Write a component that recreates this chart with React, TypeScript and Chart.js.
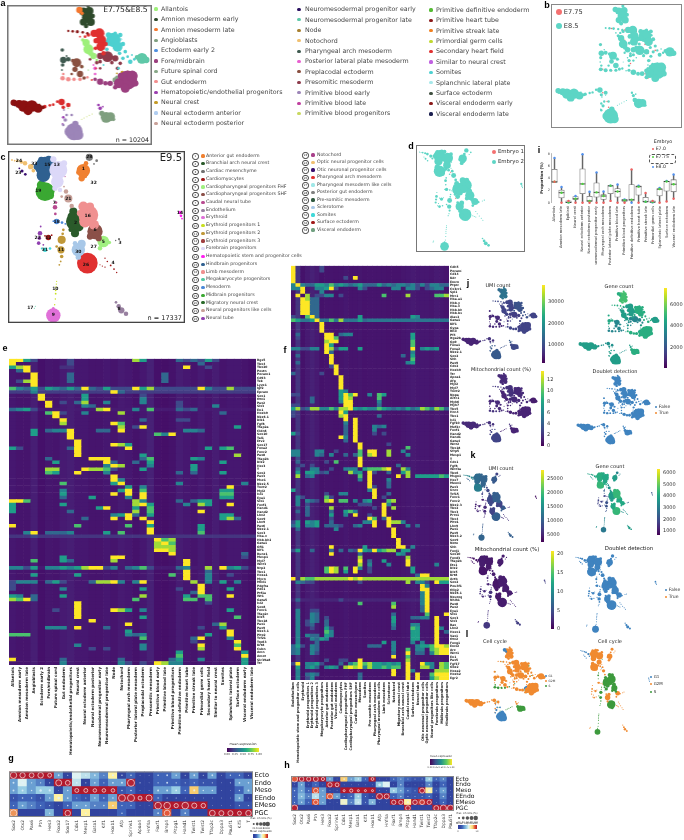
import React, { useEffect, useRef } from "react";
import { Chart, registerables } from "chart.js";
Chart.register(...registerables);

/* ---------- panel a / b / j / l : E7.75 & E8.5 atlas (UMAP units, x,y,r) ---------- */
const cells85: any[] = [
  ["Amnion mesoderm late", "#f4772e", [[238, 30, 7], [246, 40, 4]]],
  ["Amnion mesoderm early", "#2f4a2c", [[250, 35, 9], [268, 33, 9], [262, 52, 12], [250, 66, 8], [272, 66, 9], [264, 18, 4], [278, 48, 5], [258, 78, 5]]],
  ["Primitive heart tube", "#8b1a1a", [[205, 93, 2.5], [218, 94, 3], [232, 95, 3.5], [248, 97, 3], [262, 100, 3]]],
  ["Secondary heart field", "#e03030", [[282, 100, 8], [298, 100, 11], [303, 120, 11], [302, 140, 10], [265, 105, 4], [310, 160, 5], [288, 205, 2], [275, 240, 2], [240, 110, 2], [288, 122, 6], [316, 132, 5], [286, 145, 4], [255, 110, 3]]],
  ["Allantois", "#9ef07a", [[258, 128, 8], [265, 148, 11], [280, 168, 7], [290, 180, 3], [248, 120, 4], [272, 160, 6]]],
  ["Somites", "#4dd0d0", [[340, 120, 16], [352, 140, 11], [325, 105, 6], [360, 105, 5], [375, 155, 4], [368, 175, 4], [390, 185, 5], [345, 100, 4], [320, 148, 4], [395, 165, 2], [310, 195, 2], [355, 205, 3], [368, 132, 5], [382, 170, 3], [402, 178, 3], [325, 128, 7], [358, 160, 4]]],
  ["Splanchnic lateral plate", "#a6e8ea", [[345, 128, 10], [362, 118, 3]]],
  ["Presomitic mesoderm", "#8d3b4b", [[322, 170, 12], [345, 175, 7], [300, 168, 7], [290, 188, 4], [360, 190, 4], [300, 205, 3], [335, 188, 4], [352, 205, 4], [300, 185, 4], [270, 178, 3]]],
  ["Neuromesodermal progenitor late", "#5fc8a8", [[425, 175, 12], [438, 180, 7], [410, 172, 5]]],
  ["Pharyngeal arch mesoderm", "#3f5a50", [[187, 150, 4], [190, 180, 7], [205, 178, 5], [188, 195, 4], [186, 210, 2], [200, 168, 2]]],
  ["Preplacodal ectoderm", "#8a5040", [[230, 188, 10], [225, 208, 6], [240, 222, 7], [252, 234, 4], [215, 222, 3], [218, 182, 4], [245, 200, 4]]],
  ["Gut endoderm", "#f28e8e", [[188, 235, 5], [205, 238, 5], [222, 238, 4], [240, 238, 4], [190, 222, 3], [262, 232, 3]]],
  ["Fore/midbrain", "#9b3f7f", [[382, 240, 21], [356, 250, 11], [396, 228, 12], [375, 265, 10], [330, 250, 6], [300, 245, 7], [285, 238, 4], [345, 262, 5], [405, 250, 7], [316, 250, 5], [362, 228, 7]]],
  ["Future spinal cord", "#88a888", [[345, 240, 6], [350, 232, 4]]],
  ["Neural crest", "#c49a26", [[366, 218, 4], [350, 220, 2], [382, 214, 2]]],
  ["Posterior lateral plate mesoderm", "#e860d0", [[285, 205, 4], [285, 222, 3], [280, 195, 2]]],
  ["Visceral endoderm early", "#8b1010", [[42, 308, 7], [58, 312, 9], [72, 318, 13], [96, 318, 13], [115, 325, 10], [85, 332, 10], [130, 322, 4]]],
  ["Secondary heart field late", "#d92c2c", [[135, 320, 4], [150, 316, 3], [185, 306, 7], [205, 315, 5], [172, 305, 3], [190, 322, 4], [160, 314, 3]]],
  ["Visceral endoderm late", "#1c2050", [[45, 315, 3], [65, 325, 2], [100, 310, 1.5]]],
  ["Primitive blood early", "#9c85b8", [[222, 395, 19], [206, 395, 9], [226, 372, 7], [196, 360, 4], [235, 405, 11], [190, 375, 3], [215, 345, 3], [200, 345, 3], [192, 330, 2]]],
  ["Hematopoietic/endothelial progenitors", "#9b3fb0", [[190, 352, 3], [188, 372, 2], [300, 325, 4], [295, 315, 3], [308, 320, 2]]],
  ["Angioblasts", "#7f9f7f", [[318, 352, 12], [331, 350, 10], [305, 340, 6], [340, 358, 4]]],
  ["Primordial germ cells", "#c0d860", [[245, 358, 1.2], [252, 354, 1.2], [260, 350, 1.2], [268, 346, 1.2], [276, 342, 1.2]]],
  ["Primitive definitive endoderm", "#55bb33", [[120, 312, 1.2], [250, 200, 1.2], [265, 210, 1.2], [205, 325, 1.2]]],
];
const umi85 = [.35, .38, .22, .2, .2, .25, .25, .18, .2, .12, .12, .12, .2, .18, .2, .15, .1, .15, .08, .28, .28, .22, .25, .2];
const gene85 = [.62, .7, .62, .55, .55, .62, .62, .45, .55, .6, .45, .45, .62, .6, .6, .5, .55, .5, .4, .55, .55, .62, .5, .5];
const mito85 = [.12, .12, .16, .14, .1, .12, .1, .12, .08, .12, .12, .14, .1, .1, .1, .1, .12, .14, .12, .2, .14, .1, .1, .1];
const phase85 = [0, 1, 1, 1, 1, 1, 2, 1, 1, 1, 1, 2, 1, 0, 1, 1, 1, 1, 1, 0, 1, 2, 2, 1];
const holes85 = [[300, 62, 1], [345, 120, 2.5], [358, 128, 2], [330, 135, 2], [375, 235, 2.5], [395, 245, 2], [360, 262, 2], [385, 262, 2], [350, 250, 2], [410, 232, 2], [80, 318, 1.5], [225, 385, 2.5], [215, 405, 2], [240, 395, 2], [205, 370, 2], [210, 330, 2], [175, 330, 1.5], [300, 115, 1.5], [265, 140, 2], [330, 165, 1.5], [270, 180, 2], [205, 195, 2], [225, 210, 1.5], [318, 345, 1.5]];
const e775Specks = [[250, 30, 2], [262, 60, 2], [275, 45, 2], [245, 70, 2], [225, 95, 2], [285, 100, 2], [300, 120, 2], [310, 105, 2], [295, 140, 2], [270, 135, 2], [325, 120, 2], [345, 105, 2], [360, 135, 2], [340, 150, 2], [320, 175, 2], [305, 165, 2], [290, 185, 2], [350, 180, 2], [375, 170, 2], [420, 170, 2], [430, 185, 2], [190, 150, 2], [195, 185, 2], [225, 185, 2], [235, 220, 2], [195, 235, 2], [225, 240, 2], [290, 215, 2], [300, 245, 2], [340, 250, 2], [365, 225, 2], [385, 240, 2], [400, 225, 2], [370, 265, 2], [410, 250, 2], [350, 265, 2], [45, 310, 2], [60, 320, 2], [75, 312, 2], [90, 330, 2], [105, 318, 2], [120, 325, 2], [180, 305, 2], [195, 315, 2], [210, 345, 2], [205, 380, 2], [215, 365, 2], [222, 385, 2], [235, 395, 2], [210, 405, 2], [225, 415, 2], [245, 400, 2], [195, 360, 2], [300, 325, 2], [318, 350, 2], [335, 355, 2], [305, 345, 2], [270, 100, 2], [255, 130, 2], [275, 165, 2]];

/* ---------- panel c / d / k / l : E9.5 atlas (UMAP units, x,y,r) ---------- */
const cells95: any[] = [
  ["Optic neural progenitor cells", "#f0c070", [[36, 30, 2], [44, 32, 2], [52, 33, 3], [64, 36, 4], [75, 40, 5], [92, 50, 6], [100, 62, 4]]],
  ["Otic neuronal progenitor cells", "#3a1070", [[58, 55, 2], [66, 63, 3.5], [76, 73, 3]]],
  ["Forebrain progenitors", "#dcd8f8", [[175, 60, 20], [172, 95, 14], [160, 28, 7], [192, 40, 7], [165, 115, 6], [180, 120, 5]]],
  ["Hindbrain progenitors", "#2f6090", [[135, 50, 22], [124, 30, 7], [146, 28, 8], [130, 76, 15], [110, 50, 7]]],
  ["Midbrain progenitors", "#3aa832", [[135, 125, 21], [124, 105, 10], [150, 136, 9], [115, 120, 5], [160, 120, 4]]],
  ["Anterior gut endoderm", "#f08030", [[250, 62, 15], [245, 85, 7], [258, 40, 5], [235, 68, 5], [255, 78, 5]]],
  ["Cardiac mesenchyme", "#7a7a7a", [[268, 22, 8], [290, 32, 3], [282, 42, 2]]],
  ["Neural progenitors like cells", "#c8a098", [[205, 146, 9], [198, 125, 5], [215, 168, 5], [192, 110, 2], [185, 140, 3]]],
  ["Caudal neural tube", "#b84a90", [[165, 172, 5], [166, 192, 3], [195, 80, 1.5], [168, 158, 3]]],
  ["Mesoderm", "#4a88d8", [[170, 215, 6], [186, 218, 3], [160, 214, 2], [196, 222, 2]]],
  ["Limb mesoderm", "#f09090", [[265, 195, 22], [250, 170, 11], [282, 225, 11], [240, 190, 7], [255, 215, 13], [270, 170, 9]]],
  ["Branchial arch neural crest", "#2a5a2a", [[225, 215, 20], [220, 185, 9], [225, 250, 9], [236, 230, 11], [212, 240, 5], [215, 200, 9], [232, 195, 7]]],
  ["Preplacodal mesoderm", "#8b5048", [[285, 245, 17], [296, 265, 7], [270, 260, 7]]],
  ["Cardiopharyngeal progenitors FHF", "#a0f080", [[310, 275, 13], [300, 295, 5], [328, 278, 4]]],
  ["Sclerotome", "#a8c8e8", [[235, 300, 15], [245, 282, 9], [235, 322, 6], [225, 280, 5]]],
  ["Pharyngeal arch mesoderm", "#e03030", [[262, 340, 23], [246, 346, 9], [270, 360, 7], [280, 330, 7]]],
  ["Erythroid progenitors 2", "#c09838", [[185, 270, 9], [183, 300, 8], [185, 320, 4], [178, 345, 2], [190, 240, 3], [182, 335, 2], [170, 290, 3], [188, 252, 3]]],
  ["Neural tube", "#9040b0", [[120, 250, 5], [116, 280, 4], [122, 230, 2], [118, 265, 4], [130, 285, 2]]],
  ["Erythroid progenitors 3", "#a01818", [[145, 263, 6], [135, 258, 2], [155, 256, 2]]],
  ["Somites", "#40d8d8", [[135, 300, 5], [150, 296, 3], [125, 296, 2]]],
  ["Cardiomyocytes", "#a01818", [[315, 325, 1.6], [322, 335, 1.8], [332, 347, 2], [342, 358, 2], [350, 368, 1.6], [300, 345, 1.2], [307, 349, 1.4], [315, 352, 1.6]]],
  ["Cardiac grey", "#707070", [[357, 268, 2.4], [347, 272, 1.6]]],
  ["Hematopoietic stem and progenitor cells", "#ff20f0", [[540, 188, 4], [543, 198, 3], [546, 206, 2]]],
  ["Erythroid progenitors 1", "#c8e020", [[170, 395, 1.2], [169, 403, 1.4], [168, 412, 1.6], [167, 422, 1.8], [167, 432, 2], [166, 448, 1.6], [164, 465, 1.6]]],
  ["Erythroid", "#e070d8", [[160, 497, 16], [160, 476, 3]]],
  ["Megakaryocyte progenitors", "#50c8a0", [[103, 476, 1], [106, 470, 1]]],
  ["Endothelium", "#9880a0", [[348, 458, 3], [356, 470, 5], [364, 482, 7], [378, 492, 5]]],
];
const umi95 = [.45, .3, .32, .35, .42, .28, .2, .22, .2, .1, .3, .22, .2, .28, .2, .3, .12, .1, .1, .12, .14, .12, .04, .28, .32, .3, .3];
const gene95 = [.58, .5, .6, .62, .66, .55, .45, .5, .3, .2, .66, .55, .6, .6, .6, .66, .25, .2, .2, .2, .5, .3, .25, .45, .4, .5, .55];
const mito95 = [.05, .06, .07, .08, .06, .08, .08, .08, .1, .1, .08, .06, .08, .08, .07, .08, .14, .14, .12, .12, .1, .1, .18, .14, .16, .1, .18];
const phase95 = [0, 0, 1, 1, 1, 1, 1, 1, 2, 1, 2, 2, 2, 1, 1, 2, 2, 1, 1, 1, 1, 1, 0, 2, 2, 1, 1];
const holes95 = [[160, 85, 3], [150, 110, 2], [190, 160, 4], [195, 190, 3], [178, 150, 3], [245, 215, 3], [210, 275, 3], [205, 225, 2], [240, 255, 2], [118, 75, 2], [165, 40, 2], [255, 330, 2], [275, 200, 2], [205, 300, 3]];
const embryo1Specks = [[135, 50, 2], [170, 70, 2], [130, 120, 2], [205, 150, 2], [190, 130, 2], [225, 200, 2], [235, 240, 2], [270, 200, 2], [255, 175, 2], [290, 250, 2], [235, 300, 2], [262, 345, 2], [185, 295, 2], [250, 60, 2], [160, 490, 2], [310, 280, 2], [215, 260, 2], [245, 320, 2], [275, 230, 2], [300, 262, 2], [150, 40, 2], [115, 45, 2], [120, 100, 2]];

const labels95 = [["24", 57, 34], ["23", 55, 70], ["33", 103, 42], ["15", 142, 46], ["13", 170, 46], ["28", 268, 22], ["1", 250, 58], ["32", 281, 100], ["19", 115, 123], ["21", 205, 146], ["7", 163, 160], ["2", 227, 218], ["18", 170, 215], ["16", 263, 197], ["6", 285, 240], ["5", 310, 275], ["3", 360, 280], ["27", 281, 292], ["22", 113, 265], ["12", 145, 263], ["31", 135, 300], ["11", 183, 300], ["30", 235, 307], ["26", 258, 345], ["4", 339, 340], ["10", 166, 418], ["17", 91, 474], ["9", 160, 495], ["8", 357, 478], ["14", 540, 190]];

/* ---------- legends ---------- */
const legendA1 = [["Allantois", "#9ef07a"], ["Amnion mesoderm early", "#2f4a2c"], ["Amnion mesoderm late", "#f4772e"], ["Angioblasts", "#7f9f7f"], ["Ectoderm early 2", "#4f8fe0"], ["Fore/midbrain", "#9b3f7f"], ["Future spinal cord", "#88a888"], ["Gut endoderm", "#f28e8e"], ["Hematopoietic/endothelial progenitors", "#9b3fb0"], ["Neural crest", "#c49a26"], ["Neural ectoderm anterior", "#b0cdf0"], ["Neural ectoderm posterior", "#c8a098"]];
const legendA2 = [["Neuromesodermal progenitor early", "#2a1060"], ["Neuromesodermal progenitor late", "#5fc8a8"], ["Node", "#a88030"], ["Notochord", "#f0c070"], ["Pharyngeal arch mesoderm", "#3f5a50"], ["Posterior lateral plate mesoderm", "#e860d0"], ["Preplacodal ectoderm", "#8a5040"], ["Presomitic mesoderm", "#8d3b4b"], ["Primitive blood early", "#9c85b8"], ["Primitive blood late", "#c040a0"], ["Primitive blood progenitors", "#c8d860"]];
const legendA3 = [["Primitive definitive endoderm", "#55bb33"], ["Primitive heart tube", "#8b1a1a"], ["Primitive streak late", "#f08020"], ["Primordial germ cells", "#c0d830"], ["Secondary heart field", "#e03030"], ["Similar to neural crest", "#c060e0"], ["Somites", "#4dd0d0"], ["Splanchnic lateral plate", "#a6e8ea"], ["Surface ectoderm", "#405040"], ["Visceral endoderm early", "#8b1a1a"], ["Visceral endoderm late", "#1c2050"]];
const legendC1 = [["Anterior gut endoderm", "#f08030"], ["Branchial arch neural crest", "#2a5a2a"], ["Cardiac mesenchyme", "#707070"], ["Cardiomyocytes", "#a01818"], ["Cardiopharyngeal progenitors FHF", "#a0f080"], ["Cardiopharyngeal progenitors SHF", "#8b5048"], ["Caudal neural tube", "#b84a90"], ["Endothelium", "#9880a0"], ["Erythroid", "#e070d8"], ["Erythroid progenitors 1", "#c8e020"], ["Erythroid progenitors 2", "#c09838"], ["Erythroid progenitors 3", "#a04040"], ["Forebrain progenitors", "#dcd8f8"], ["Hematopoietic stem and progenitor cells", "#ff20f0"], ["Hindbrain progenitors", "#2f6090"], ["Limb mesoderm", "#f09090"], ["Megakaryocyte progenitors", "#50c8a0"], ["Mesoderm", "#4a88d8"], ["Midbrain progenitors", "#3aa832"], ["Migratory neural crest", "#2a6a2a"], ["Neural progenitors like cells", "#c8a098"], ["Neural tube", "#9040b0"]];
const legendC2 = [["Notochord", "#a8408a"], ["Optic neural progenitor cells", "#f0c070"], ["Otic neuronal progenitor cells", "#3a1070"], ["Pharyngeal arch mesoderm", "#e03030"], ["Pharyngeal mesoderm like cells", "#a0e8e8"], ["Posterior gut endoderm", "#808080"], ["Pre-somitic mesoderm", "#305a40"], ["Sclerotome", "#a8c8e8"], ["Somites", "#40d8d8"], ["Surface ectoderm", "#a01818"], ["Visceral endoderm", "#70a080"]];

/* ---------- panel e heat map ---------- */
const columnsE = ["Allantois", "Amnion mesoderm early", "Amnion mesoderm late", "Angioblasts", "Ectoderm early 2", "Fore/midbrain", "Future spinal cord", "Gut endoderm", "Hematopoietic/endothelial progenitors", "Neural crest", "Neural ectoderm anterior", "Neural ectoderm posterior", "Neuromesodermal progenitor early", "Neuromesodermal progenitor late", "Node", "Notochord", "Pharyngeal arch mesoderm", "Posterior lateral plate mesoderm", "Preplacodal ectoderm", "Presomitic mesoderm", "Primitive blood early", "Primitive blood late", "Primitive blood progenitors", "Primitive definitive endoderm", "Primitive heart tube", "Primitive streak late", "Primordial germ cells", "Secondary heart field", "Similar to neural crest", "Somites", "Splanchnic lateral plate", "Surface ectoderm", "Visceral endoderm early", "Visceral endoderm late"];
const genesE = ["Rgs5", "Tbx4", "Tbx20", "Postn", "Pecam1", "Cd93", "Tek", "Lyve1", "Igf2", "Epcam", "Sox1", "Otx1", "Pax2", "Six3", "En1", "Hoxb9", "Nkx6-1", "Dlk1", "Fgf8", "Tfap2a", "Cldn6", "Sox10", "Tal1", "Etv2", "Sox17", "Foxa2", "Foxc2", "Pax8", "Tfap2b", "Dlx2", "Hes3", "T", "Sox2", "Pax3", "Msx1", "Nkx2-5", "Tnnt2", "Myl2", "Isl1", "Eya1", "Six1", "Foxf1", "Hand1", "Hand2", "Lhx2", "Sox9", "Lhx9", "Pax6", "Nkx2-1", "Sox3", "Hba-x", "Hbb-bh1", "Gata1", "Gfi1", "Klf1", "Runx1", "Mesp1", "Myl7", "Wnt3", "Nrp2", "Tbx1", "Hoxa1", "Mycn", "Mixl1", "Pdgfra", "Pdx1", "Ptf1a", "Wt1", "Gata5", "Isl2", "Sox8", "Foxc1", "Tfap2c", "Dlx5", "Tbx18", "Pax1", "Pax9", "Nkx3-1", "Pitx2", "Tcf21", "Trp63", "Krt8", "Cubn", "Amn", "Amot", "Slc39a8", "Ttr"];
const baseE = [.8, .6, .6, 1.2, .3, .7, .6, 1, 1.2, .8, .8, .6, .6, .8, .6, 1, .8, .4, .8, 1.3, .3, .2, .4, 1.1, .8, .6, 1, .6, 1.1, .6, .8, .8, .6, .3];
/* cells were read on a grid of 35 column widths */
const readColsE = 35;
const heatERows = [
  "0:9 1:9 2:6 3:3 8:3 17:8 19:6 24:4 25:3 26:4 27:3 28:6 29:3", "0:9 8:3 27:4", "0:6 1:8 2:9 7:2 8:2 25:9 28:3", "1:4 2:9", "3:9 8:4 22:4", "3:9 8:4 22:4", "1:3 2:8 3:9 8:4 22:4", "3:9",
  "*:3 0:7 1:5 2:4 3:6 5:6 6:5 7:4 8:6 9:4 10:9 11:4 13:6 17:9 19:6 20:8 27:9 28:5 31:8", "*:2.5 3:5 14:9 15:4", "4:9 10:6 19:3", "4:9 10:6 19:5", "5:9 7:3 9:4 10:8 13:5 19:5 24:3", "5:9 10:5 11:4 29:5 24:3",
  "*:1 0:4 1:5 2:6 3:3 12:8 13:9 18:5 20:7 24:4 26:4 25:3", "5:7 6:9 7:3 10:5 15:8 30:4", "6:9", "7:9 19:4 24:3 25:3", "7:8 14:9 15:7", "15:8 18:3 19:9 32:6", "3:6 5:4 6:5 7:5 8:9 12:4 13:4 15:9 25:5 26:5 27:4", "3:6 8:9 21:7 22:5 23:9", "8:9", "9:9",
  "9:9 14:9 15:8 16:6", "0:6 1:3 8:4 9:9 16:9 28:6 30:6 31:7", "9:9", "9:9 19:6 32:8", "5:4 11:9 12:9 13:9 19:4 20:7 26:6 27:5", "6:6 13:9 14:4 18:4 20:6 30:6", "13:5 14:9 15:8 20:5 26:6", "5:8 6:8 10:9 11:8 12:8 13:7 14:3 19:6 26:6", "5:7 6:6 9:9 13:5 24:4 26:4 30:6", "14:9", "14:9 15:5", "7:7 14:6 15:9 24:5 33:5",
  "16:6 19:5 31:9", "7:5 15:6 16:9 19:7 30:6 31:6", "7:6 14:9 16:9 19:9 30:7 31:7", "7:4 11:6 16:5 19:9 30:6 31:6", "0:9 1:9 2:7 17:8 19:5 24:4 26:4 27:6 28:6", "0:6 7:6 17:5 18:8 19:9 20:6 25:5 27:8 28:6 31:9", "0:6 12:6 13:9 17:6 20:7", "0:6 8:4 17:8 20:7 27:9", "14:5 15:6 16:9 18:4 20:6 30:6 31:6", "10:4 14:9 16:9 19:9 30:6 31:8 32:4", "20:9", "0:9 9:7 16:7 20:6 27:6", "20:9 27:6", "2:5 3:9 5:4 6:4 7:4 8:5 13:6 15:7 20:9 27:7", "*:2.2 3:3", "21:9 22:7 23:8", "21:8 22:9 23:7", "21:8 22:8 23:8", "21:9 22:9 23:8", "23:9 33:4", "7:6 14:9 15:9 33:3",
  "3:7 7:6 8:4 14:8 25:9", "25:9", "*:1 0:5 1:5 2:3 3:6 5:5 6:5 7:6 8:5 9:6 10:8 11:9 12:9 13:3 14:5 16:4 17:5 18:5 19:7 20:3 24:4 25:5 28:8 30:9 31:5 32:6 33:3", "25:9 28:4", "3:6 9:6 23:7 25:9 28:5 31:3", "25:9 28:5", "0:3 1:5 2:5 3:5 5:4 6:6 7:3 11:4 12:8 13:8 14:9 15:5 17:4 18:5 19:9 26:8 28:5 30:6 32:5", "27:9 0:3", "0:3 7:5 19:6 27:9 31:6 24:3", "26:4 27:9", "0:6 1:5 3:4 7:6 19:8 25:6 27:7 28:7 31:9", "0:8 1:7 2:9 3:4 18:7 25:7 26:7 28:7", "9:9 28:3", "9:9", "6:3 9:9 14:9 15:8 16:6 19:5 31:6", "9:9", "9:9 19:6 32:7", "11:9", "16:9 30:8 29:4", "5:5 6:5 7:5 9:9 13:4 30:6 27:3", "16:6 31:9", "0:7 1:7 2:7 16:5 17:4 19:5 28:6 31:9", "19:7 26:4 27:9 31:5", "26:3 32:9", "9:5 19:5 27:9 32:7", "11:3 13:3 19:5 27:8 32:9", "24:6 33:6", "24:7 33:9",
  "0:9 7:4 15:4 23:4 24:6 27:5 33:6", "7:5 15:5 16:3 19:3 21:9 22:8 23:5 24:5 33:6",
];

/* ---------- panel f heat map ---------- */
const columnsF = ["Endothelium", "Hematopoietic stem and progenitor cells", "Erythroid", "Erythroid progenitors 1", "Erythroid progenitors 2", "Erythroid progenitors 3", "Megakaryocyte progenitors", "Anterior gut endoderm", "Posterior gut endoderm", "Visceral endoderm", "Cardiomyocytes", "Cardiopharyngeal progenitors FHF", "Cardiopharyngeal progenitors SHF", "Cardiac mesenchyme", "Mesoderm", "Somites", "Pre-somitic mesoderm", "Pharyngeal arch mesoderm", "Pharyngeal mesoderm like cells", "Limb mesoderm", "Sclerotome", "Notochord", "Migratory neural crest", "Branchial arch neural crest", "Caudal neural tube", "Surface ectoderm", "Neural tube", "Otic neuronal progenitor cells", "Optic neuronal progenitor cells", "Neural progenitors like cells", "Forebrain progenitors", "Midbrain progenitors", "Hindbrain progenitors"];
const genesF = ["Cdh5", "Pecam1", "Cd34", "Kdr", "Emcn", "Ptprc", "Cx3cr1", "Spi1", "Mrc1", "Hba-a1", "Hbb-y", "Hba-x", "Hbb-bh1", "Hbb-bs", "Alas2", "Gata1", "Klf1", "Gypa", "Rhd", "Pf4", "Itga2b", "Gp9", "Foxa1", "Foxa2", "Nkx2-1", "Sox2", "Shh", "Pax9", "Cdx2", "Hoxb9", "Ttr", "Apoa1", "Afp", "Myl2", "Myl7", "Tnnt2", "Nppa", "Actc1", "Myh6", "Myh7", "Tbx5", "Hcn4", "Tbx1", "Isl1", "Fgf10", "Mef2c", "Foxf1", "Hand2", "Hand1", "Gata4", "Wnt2", "Tbx18", "Sfrp5", "Mesp1", "T", "Cdx1", "Fgf8", "Wnt3a", "Tbx6", "Msgn1", "Hes7", "Meox1", "Pax3", "Uncx", "Tcf15", "Foxc1", "Foxc2", "Nkx2-3", "Tbx2", "Tbx3", "Prrx1", "Tbx4", "Pitx1", "Lhx9", "Pax1", "Pax9", "Nkx3-2", "Sox9", "Noto", "Shh", "Foxj1", "Sox10", "Foxd3", "Tfap2b", "Ets1", "Dlx2", "Dlx5", "Krt8", "Actb", "Sox2", "Pou3f1", "Olig2", "Nkx6-1", "Neurog2", "Nhlh1", "Pax8", "Pax2", "Eya1", "Six1", "Sox3", "Six3", "Rax", "Lhx2", "Hesx1", "Vax1", "Otx2", "Foxg1", "Emx2", "Arx", "Wnt1", "En1", "Pax5", "Fgf17", "Gbx2", "Hoxa2", "Hoxb2", "Egr2"];
const baseF = [.5, 2.2, .4, 1, 1.3, 1, .4, .6, .6, .5, .6, .8, .6, .6, .7, .5, .6, .6, .6, .6, .5, .5, .5, .7, .8, 1, .8, .8, .8, .7, 1, .8, .6];
const heatFRows = [
  "0:9 6:3", "0:9 6:3", "0:9", "0:9 11:3 13:9", "0:9",
  "0:5 1:9 2:5 3:4 4:4 5:6 6:6 7:5 8:7 9:5 10:6 11:5 12:4 13:5 14:6 15:4 16:4 17:4 18:6 19:4 20:5 21:4 22:5 23:5 24:4 25:5 26:3 27:5 28:3 29:5 30:5 31:4 32:4",
  "0:5 1:5 2:9 5:5 6:5 7:6 8:9 9:3 14:5 15:3 21:5 22:5 24:5 25:5 26:3 28:3 29:4 30:5 31:5",
  "2:9 6:5", "1:9 3:8 5:3 6:3 7:5 8:5 10:3 19:7 24:8 30:7 31:7 32:8", "2:9 3:8 4:4 5:4", "2:9 3:9 4:4 5:4", "2:9 3:9 4:4 5:4", "2:9 3:9 4:4 5:4", "2:9 3:9 4:4 5:4",
  "0:3 3:7 4:9 5:4 14:6 25:6 26:5", "*:4.5 0:7 1:6 4:6 5:9 8:7 10:8 14:6 15:4", "6:9", "6:9", "6:9",
  "1:4 7:9 8:9 10:4 11:5 12:5 25:6", "1:3 7:9 8:9 9:7 25:6", "7:8 8:9 9:9 25:7", "7:9 8:6 25:7",
  "0:5 1:5 2:3 3:3 4:5 5:5 7:9 8:8 9:3 10:6 11:6 14:6 25:9 27:5 28:6 29:5 30:6", "7:9 8:4 25:5", "1:4 8:9 23:4 25:6", "8:9 25:7", "1:4 8:9 24:5 25:6", "8:3 9:9", "9:9", "0:4 6:3 9:9", "10:9", "10:9", "10:9", "10:9", "10:6 11:5",
  "0:3 1:3 10:6 11:9 12:7 13:9 16:5 18:7 19:6", "4:4 10:6 11:9 12:8 18:7", "4:4 10:5 11:9 12:9 18:5", "0:3 1:3 11:9 12:9 18:4",
  "0:6 1:8 2:3 3:4 4:8 5:8 6:5 7:5 8:7 9:5 10:8 11:8 12:9 13:6 14:5 15:6 16:5 17:5 18:7 19:6 20:5 21:4 22:5 23:4 24:6 25:4 26:5 27:8 28:7 29:5 30:8 31:7 32:4",
  "0:3 10:9 11:6", "0:3 10:8 11:9 18:4", "11:9 13:9", "11:5 13:9", "11:4 13:9 17:5 18:4 19:5", "11:4 13:9 17:5", "0:6 1:3 11:4 13:9 17:3 19:3", "10:9 11:5 13:9", "11:4 13:9", "14:9 20:3", "14:9 24:7",
  "0:5 1:5 5:5 6:5 9:3 14:7 16:9 17:9 20:8 23:5", "0:5 1:5 5:5 6:4 8:5 11:4 13:4 14:7 16:8 17:9 20:8 24:5", "1:3 14:9", "1:4 7:3 9:7 14:9", "2:3 4:3 14:9 22:4",
  "1:4 4:5 5:5 8:3 11:5 12:5 13:5 15:6 16:7 17:7 18:7 19:8 20:9 23:8 24:5", "1:6 3:6 4:6 5:5 6:3 7:4 12:8 13:5 14:6 16:9 17:3 20:4 23:6 24:8", "1:8 3:4 4:5 14:7 16:9 22:9 24:8 26:6 27:6 28:6 29:6 30:6 31:7 32:6", "14:5 16:9 20:5", "16:9 20:4", "16:9 17:3 20:4", "0:6 16:5 17:9", "7:3 10:5 11:5 17:9 20:4", "1:5 2:3 7:7 8:3 17:9 19:3",
  "1:5 3:5 4:4 5:3 7:8 8:9 10:7 11:7 13:5 15:5 16:6 20:7 21:8", "1:5 3:3 14:3 15:3 16:3 19:9 20:5", "3:4 8:8 17:3 19:9 21:8", "1:4 3:4 8:4 11:6 12:7 13:5 19:9", "3:4 8:6 11:5 13:9 16:3 19:9", "8:3 16:9 17:7 19:4 20:9",
  "0:3 1:6 3:6 4:5 5:6 8:4 15:5 16:5 17:9 20:9 21:8 22:8 23:5", "0:4 1:6 3:5 4:5 5:6 7:4 8:4 9:4 10:3 13:4 14:5 17:9 20:9 24:5 26:4", "1:4 9:5 21:9", "21:9", "21:9", "22:9", "22:9",
  "8:9 15:6 22:9 23:9 25:5", "0:3 1:6 4:4 8:4 10:4 12:4 13:3 14:9 15:6 16:5 17:9 18:6 19:7 20:8 21:8 23:6 24:6", "8:9 14:4 22:6 23:5", "14:8 24:8", "14:9 16:4 19:6 24:9", "14:8 16:5 20:5 24:9 30:5", "7:7 8:9 9:8 11:7 13:9 14:5 16:3 25:6", "7:7 8:9 9:8 11:6 13:9 16:3 25:6", "26:4 27:9 28:9",
  "*:8 0:9 1:2 3:7 4:7 12:9 14:9", "0:1 1:5 2:4 3:3 4:3 14:3 24:8 26:5 27:5 28:3 30:9 31:6 32:6", "27:9 28:5", "27:9 28:9", "27:5 28:9", "27:5 28:9", "1:4 10:3 27:5 28:9 *:1.5", "14:7 21:7 27:5 28:9", "21:8 27:4 28:9", "1:5 4:3 5:3 27:4 28:9",
  "1:5 4:5 5:4 21:4 28:7 32:9", "1:5 4:5 5:4 7:3 21:6 25:4 26:4 27:5 28:5 30:9", "1:5 3:3 4:5 5:4 7:4 21:6 30:9", "1:5 3:3 4:4 7:4 21:5 25:5 26:5 30:9", "1:5 4:3 7:6 8:3 21:4 25:7 26:6 30:9 31:5", "1:5 7:7 8:5 25:6 26:6 30:9 32:4", "1:5 3:5 4:4 5:4 7:6 8:5 25:6 26:6 30:9", "1:5 4:5 5:4 6:6 7:5 25:6 26:6 30:9", "1:5 5:4 19:6 21:5 25:5 27:5 30:9",
  "0:4 1:6 2:3 4:5 5:4 16:4 17:4 18:4 21:5 26:5 27:6 28:6 29:7 30:9 31:9 32:8", "0:4 1:5 4:5 5:4 21:5 24:7 26:5 27:5 29:7 30:8 31:9 32:9", "0:4 1:5 4:5 5:3 21:4 24:9 26:4 27:4 29:5 30:8 31:9 32:9", "21:9 24:7", "7:3 10:3 11:3 14:9 24:8",
  "0:3 1:9 3:5 4:5 5:6 6:3 10:4 12:5 13:7 14:9 15:7 16:8 17:6 18:6 19:5 20:6 21:5 22:6 24:9 27:9 28:6 29:5 31:8 32:7",
  "1:6 3:5 4:6 5:4 7:5 8:6 9:5 11:8 12:9 13:8 14:9 15:5 16:8 17:6 18:6 19:7 20:6 21:7 22:7 24:9 27:8 28:8 29:5 31:8 32:7",
  "1:5 21:9 24:9 25:5 30:8 31:8 32:8", "1:5 3:4 4:5 5:4 14:4 21:9 24:9 26:9 29:7 30:9 31:9 32:9", "1:5 3:3 4:5 14:4 24:9 26:9 29:6 30:8 31:9 32:9",
];

/* ---------- panels g, h ---------- */
const lineages = ["Ecto", "Endo", "Meso", "EEndo", "EMeso", "PGC"];
const genesG = ["Sox2", "Otx2", "Pax6", "Ptn", "Hes3", "Foxa2", "Sox17", "Cdx1", "Mesp1", "Gata1", "Klf1", "Hoxb1", "Afp", "Sprink1", "Apoa4", "Hnf4a", "Foxf1", "Bmp4", "Pitpg1", "Hand1", "Twist1", "Twist2", "Tfap2c", "Dppa3", "Pou5f1", "Kif5", "T"];
const meanG = [
  [9, 9, 9, 9, 9, 3, 1, 5, 4.5, 3.5, 2.5, 6, 1, 2, 1, 1, 2, 2, 3, 1, 3, 1, 3, 1, 2, 2, 1],
  [3, 5, 3, 2.5, 1, 9, 9, 4.5, 1, 3, 2, 3, 3, 9, 1, 1, 2, 2, 2, 1.5, 2, 1.5, 1.5, 1, 1, 3, 3],
  [3, 4, 3, 4, 4, 1, 3, 9, 9, 9, 9, 9, 1.5, 2, 1, 1, 3, 3, 4, 2, 7, 3, 3, 1, 1, 2, 3],
  [1.5, 2, 2, 1.5, 3, 6, 3, 2, 1.5, 3, 2, 3, 9, 9, 9, 9, 2, 1, 1, 1, 1, 1, 1, 1, 1, 3, 1],
  [2, 3, 2.5, 2, 1.5, 1, 2, 3, 3, 2.5, 2.5, 7, 2, 2, 1, 1, 9, 9, 9, 9, 9, 9, 1, 1, 1, 1.5, 1.5],
  [7.5, 1, 1, 1, 3.5, 1, 9, 1, 6, 1, 1, 1, 2, 1, 1, 1, 2.5, 8, 1, 2.5, 1, 1, 9, 9, 9, 9, 9],
];
const fracG = [
  [80, 55, 45, 60, 30, 25, 10, 20, 20, 25, 10, 35, 15, 20, 5, 5, 20, 25, 20, 10, 25, 10, 25, 5, 15, 15, 10],
  [30, 40, 15, 15, 10, 70, 45, 25, 10, 20, 10, 25, 30, 95, 10, 5, 15, 30, 15, 10, 15, 10, 10, 5, 10, 25, 20],
  [30, 30, 15, 45, 35, 5, 20, 30, 30, 25, 25, 25, 15, 20, 5, 5, 30, 30, 25, 15, 35, 20, 20, 5, 5, 15, 30],
  [10, 20, 15, 10, 20, 60, 25, 10, 10, 20, 15, 20, 90, 95, 30, 70, 15, 10, 10, 5, 5, 5, 5, 5, 5, 25, 5],
  [15, 25, 15, 15, 10, 5, 20, 20, 25, 20, 20, 30, 15, 15, 5, 5, 85, 85, 35, 85, 50, 40, 5, 5, 5, 15, 15],
  [90, 0, 0, 0, 15, 0, 60, 0, 20, 0, 0, 0, 15, 0, 0, 0, 25, 70, 0, 25, 0, 0, 65, 50, 50, 30, 60],
];
const genesH = ["Sox2", "Otx2", "Pax6", "Ptn", "Hes3", "Foxa2", "Sprink1", "Cdx1", "Mesp1", "Gata1", "Klf1", "Hoxb1", "Afp", "Hnf4a", "Foxf1", "Bmp4", "Pitpg1", "Hand1", "Twist1", "Twist2", "Tfap2c", "Dppa3", "Pou5f1"];
const meanH = [
  [8, 9, 9, 9, 9, 3, 1, 7, 3, 4, 2, 9, 1, 1, 2, 2.5, 2, 1.5, 1.5, 4, 2, 2.5, 1],
  [1, 3, 1, 2, 1, 9, 9, 1, 1, 1, 1, 1, 4, 5, 1, 2.5, 1, 1, 1, 2.5, 1, 2, 1],
  [2, 3, 2, 8, 3, 1, 1, 9, 9, 9, 9, 9, 1, 1, 4, 3, 2, 1.5, 9, 6, 1.5, 3, 1],
  [2, 3.5, 2.5, 4.5, 3, 8, 3, 1.5, 2, 4, 1.5, 1, 9, 9, 2, 2.5, 1.5, 1.5, 1.5, 2, 1, 2.5, 1],
  [2, 3, 2, 8, 3, 1, 1, 5.5, 2.5, 4.5, 1.5, 3.5, 1, 1, 9, 9, 6, 9, 8.5, 9, 1, 2, 1],
  [9, 1, 1, 1, 1, 1, 1, 1, 1, 1, 1, 1, 1, 1, 1, 1, 9, 1, 1, 1, 9, 9, 9],
];
const fracH = [
  [90, 50, 45, 60, 25, 20, 5, 30, 15, 25, 10, 20, 5, 5, 15, 15, 10, 10, 10, 30, 15, 20, 5],
  [5, 20, 5, 10, 5, 45, 35, 5, 5, 5, 5, 5, 75, 45, 5, 20, 5, 5, 5, 20, 5, 15, 5],
  [20, 20, 15, 50, 15, 5, 5, 10, 25, 10, 10, 10, 5, 5, 30, 20, 15, 10, 60, 60, 10, 20, 5],
  [10, 25, 15, 30, 15, 65, 20, 10, 15, 30, 10, 5, 85, 60, 10, 20, 10, 10, 10, 15, 5, 25, 5],
  [15, 20, 10, 50, 15, 5, 5, 20, 15, 30, 10, 20, 5, 5, 45, 45, 35, 50, 55, 45, 5, 15, 5],
  [95, 0, 0, 0, 0, 0, 0, 0, 0, 0, 0, 0, 0, 0, 0, 0, 55, 0, 0, 0, 60, 95, 90],
];
const keyFractions = [20, 40, 60, 80, 100];

/* ---------- panel i ---------- */
const stageCats = ["Allantois", "Amnion mesoderm late", "Epiblast", "Neural crest", "Neural ectoderm anterior", "Neural ectoderm posterior", "Neuromesodermal progenitor early", "Pharyngeal arch mesoderm", "Posterior lateral plate mesoderm", "Primitive blood late", "Primitive blood progenitors", "Primitive definitive endoderm", "Primitive heart tube", "Primitive streak late", "Primordial germ cells", "Splanchnic lateral plate", "Surface ectoderm", "Visceral endoderm late"];
const propE70 = [3.45, 0, .3, 0, 0, 0, 0, 0, .3, 0, 0, 5.5, 0, 1.6, .3, 0, .2, .65];
const propE775 = [3.45, 1.65, .05, .65, 3.1, .3, 1.7, 1.1, 2.8, 1.85, .4, .5, 2.65, .15, .1, 2.25, 3.5, 3.05];
const propE80 = [7.4, 2.6, .05, 1.1, 8, 1.8, 5, 1.85, 2.8, 3, .55, 0, 2.8, .15, .05, 2.45, 3.6, 4.65];
const boxQ1 = [3.35, .8, 0, .55, 1.5, .2, .9, .55, 1.5, .9, .2, .3, 1.25, .15, .05, 1.1, 1.9, 1.8];
const boxQ3 = [5.5, 2.1, .3, 1, 5.6, 1.05, 3.3, 1.35, 2.8, 2.35, .55, 3, 2.8, .9, .3, 2.3, 3.55, 3.8];

/* ---------- colour stops ---------- */
const heatStops = ["#440c66", "#471a72", "#46307e", "#3f4a8a", "#31688e", "#26838f", "#1f9e89", "#4ac16d", "#a0da39", "#fde725"];
const viridis = ["#440154", "#482475", "#414487", "#355f8d", "#2a788e", "#21918c", "#22a884", "#44bf70", "#7ad151", "#bddf26", "#fde725"];
const coolStops = ["#2f3ea0", "#31449f", "#3f63b8", "#6a9fd2", "#98cde4", "#dff2f2", "#fff2a0", "#f8cd70", "#e05030", "#b2182b"];

const hex = (s: string) => [1, 3, 5].map((i) => parseInt(s.slice(i, i + 2), 16));
function ramp(stops: string[], v: number) {
  const p = Math.max(0, Math.min(stops.length - 1, v));
  const i = Math.min(stops.length - 2, Math.floor(p));
  const a = hex(stops[i]), b = hex(stops[i + 1]), t = p - i;
  return `rgb(${a.map((c, k) => Math.round(c + (b[k] - c) * t)).join(",")})`;
}
function parseRow(s: string, base: number[], readCols: number) {
  const out = base.slice();
  const toks = s.split(" ").filter(Boolean).map((t) => t.split(":"));
  toks.forEach(([c, v]) => { if (c === "*") out.forEach((b, i) => (out[i] = Math.max(b, +v))); });
  toks.forEach(([c, v]) => {
    if (c === "*") return;
    const idx = Math.floor(((+c + .5) * base.length) / readCols);
    if (idx < out.length) out[idx] = +v;
  });
  return out;
}

/* ---------- chart builders ---------- */
Chart.defaults.font.family = "'DejaVu Sans', sans-serif";
type Spec = { left: number; top: number; width: number; height: number; config: any };
const specs: Spec[] = [];
const baseOpts = { responsive: false, animation: false, events: [], maintainAspectRatio: false, plugins: { legend: { display: false }, tooltip: { enabled: false } } };
const noGrid = { display: false, drawTicks: false };

const frame = (color: string, w: number) => ({
  id: "frame",
  afterDraw(c: any) {
    const a = c.chartArea, x = c.ctx;
    x.save(); x.strokeStyle = color; x.lineWidth = w;
    x.strokeRect(a.left + w / 2, a.top + w / 2, a.right - a.left - w, a.bottom - a.top - w);
    x.restore();
  },
});
const clusterLabels = (list: any[]) => ({
  id: "clusterLabels",
  afterDatasetsDraw(c: any) {
    const x = c.ctx;
    x.save(); x.font = "bold 4.5px 'DejaVu Sans'"; x.fillStyle = "#111"; x.textAlign = "center"; x.textBaseline = "middle";
    list.forEach(([t, px, py]) => x.fillText(t, c.scales.x.getPixelForValue(px), c.scales.y.getPixelForValue(py)));
    x.restore();
  },
});
function umap(box: number[], range: number[], groups: { color: any; pts: number[][] }[], plugins: any[] = []) {
  const [left, top, width, height] = box;
  const [xmin, xmax, ymin, ymax] = range;
  const k = width / (xmax - xmin);
  specs.push({
    left, top, width, height,
    config: {
      type: "scatter",
      data: {
        datasets: groups.map((g) => ({
          data: g.pts.map(([x, y, r]) => ({ x, y, r })),
          backgroundColor: g.color, borderWidth: 0,
          pointRadius: (c: any) => Math.max(0.5, (c.raw?.r ?? 1) * k * 1.35), pointHoverRadius: 0,
        })),
      },
      options: {
        ...baseOpts, layout: { padding: 0, autoPadding: false },
        scales: { x: { display: false, min: xmin, max: xmax }, y: { display: false, min: ymin, max: ymax, reverse: true } },
      },
      plugins,
    },
  });
}
/* fit an atlas whose extent [ex0,ex1,ey0,ey1] lands on page extent [x0,y0,x1,y1], with a free margin */
function fit(page: number[], ext: number[], pad = 7) {
  const [x0, y0, x1, y1] = page, [ex0, ex1, ey0, ey1] = ext;
  const sx = (x1 - x0) / (ex1 - ex0), sy = (y1 - y0) / (ey1 - ey0);
  return {
    box: [x0 - pad, y0 - pad, x1 - x0 + 2 * pad, y1 - y0 + 2 * pad],
    range: [ex0 - pad / sx, ex1 + pad / sx, ey0 - pad / sy, ey1 + pad / sy],
  };
}
const EXT85 = [30, 445, 20, 425], EXT95 = [30, 550, 15, 515];
const g85 = (fn: (i: number) => string) => cells85.map((c, i) => ({ color: fn(i), pts: c[2] }));
const g95 = (fn: (i: number) => string) => cells95.map((c, i) => ({ color: fn(i), pts: c[2] }));
const white = (pts: number[][], f = .6) => ({ color: "rgba(255,255,255,.85)", pts: pts.map(([x, y, r]) => [x, y, r * f]) });
const vir = (v: number) => ramp(viridis, v * 10);
const PHASE = ["#3f83bf", "#f08a30", "#3d9a3d"];
const TEAL = "#5dd5c5", SALMON = "#f47070", STEEL = "#3f83bf";

function scalar85(page: number[], vals: number[]) { const f = fit(page, EXT85); umap(f.box, f.range, [...g85((i) => vir(vals[i])), white(holes85)]); }
function scalar95(page: number[], vals: number[]) { const f = fit(page, EXT95); umap(f.box, f.range, [...g95((i) => vir(vals[i])), white(holes95)]); }

function heat(left: number, top: number, w: number, h: number, labelW: number, axisH: number, cols: string[], rows: string[], rowRows: string[], base: number[], readCols: number, fs: number) {
  const mat = rowRows.map((r) => parseRow(r, base, readCols));
  const n = mat.length;
  specs.push({
    left, top, width: w + labelW, height: h + axisH,
    config: {
      type: "bar",
      data: {
        labels: cols,
        datasets: mat.map((row) => ({
          data: row.map(() => 1), stack: "s",
          backgroundColor: row.map((v) => ramp(heatStops, v)),
          barPercentage: 1, categoryPercentage: 1, borderWidth: 0,
        })).reverse(),
      },
      options: {
        ...baseOpts, layout: { padding: 0, autoPadding: false },
        scales: {
          x: { stacked: true, grid: noGrid, border: { display: false }, afterFit: (s: any) => { s.height = axisH; },
            ticks: { autoSkip: false, minRotation: 90, maxRotation: 90, padding: 2, color: "#222", font: { size: fs, weight: "bold" } } },
          y: { stacked: true, display: false, min: 0, max: n },
          yR: { type: "category", labels: rows.slice(0, n), position: "right", offset: true, grid: noGrid, border: { display: false }, afterFit: (s: any) => { s.width = labelW; },
            ticks: { autoSkip: false, padding: 1, color: "#222", font: { size: 3, weight: "bold" } } },
        },
      },
    },
  });
}

function dotplot(left: number, top: number, w: number, h: number, labelW: number, axisH: number, genes: string[], mean: number[][], frac: number[][], fs: number, maxR: number) {
  const n = mean.length;
  const hot = (ri: number, i: number) => mean[ri][i] >= 7.5;
  const cell = mean.map((row) => row.map((v) => ramp(coolStops, v)));
  specs.push({
    left, top, width: w + labelW, height: h + axisH,
    config: {
      type: "bar",
      data: {
        labels: genes,
        datasets: [
          ...frac.map((row, ri) => ({
            type: "line", yAxisID: "yC", showLine: false, data: row.map(() => n - ri - .5), order: -1,
            pointRadius: row.map((p, i) => (p <= 0 ? 0 : Math.sqrt(p / 100) * maxR * (hot(ri, i) ? 1 : .5))), pointHoverRadius: 0,
            pointBorderWidth: row.map((p, i) => (hot(ri, i) ? .7 : 0)),
            pointBackgroundColor: row.map((p, i) => (hot(ri, i) ? "rgba(255,255,255,.05)" : "rgba(225,240,250,.8)")),
            pointBorderColor: row.map((p, i) => (hot(ri, i) ? "#f6e6e6" : "rgba(225,240,250,.6)")),
          })),
          ...cell.map((row) => ({ data: row.map(() => 1), stack: "s", backgroundColor: row, barPercentage: 1, categoryPercentage: 1, borderWidth: 0 })).reverse(),
        ],
      },
      options: {
        ...baseOpts, layout: { padding: 0, autoPadding: false },
        scales: {
          x: { stacked: true, grid: noGrid, border: { display: false }, afterFit: (s: any) => { s.height = axisH; },
            ticks: { autoSkip: false, minRotation: 90, maxRotation: 90, padding: 3, color: "#333", font: { size: 4.4 } } },
          y: { stacked: true, display: false, min: 0, max: n },
          yC: { display: false, min: 0, max: n },
          yR: { type: "category", labels: lineages, position: "right", offset: true, grid: noGrid, border: { display: false }, afterFit: (s: any) => { s.width = labelW; },
            ticks: { autoSkip: false, padding: 1.5, color: "#111", font: { size: fs } } },
        },
      },
      plugins: [frame("#8a8a8a", 1)],
    },
  });
}

const gradient = (stops: string[], vertical: boolean) => (c: any) => {
  const a = c.chart.chartArea;
  if (!a) return stops[0];
  const g = vertical ? c.chart.ctx.createLinearGradient(0, a.bottom, 0, a.top) : c.chart.ctx.createLinearGradient(a.left, 0, a.right, 0);
  stops.forEach((s, i) => g.addColorStop(i / (stops.length - 1), s));
  return g;
};
function vbar(x0: number, y0: number, y1: number, bw: number, min: number, max: number, ticks: number[], fs = 5) {
  const pad = 5;
  specs.push({
    left: x0, top: y0 - pad, width: bw + 30, height: y1 - y0 + 2 * pad,
    config: {
      type: "bar",
      data: { labels: ["scale"], datasets: [{ data: [[min, max]], backgroundColor: gradient(viridis, true), barPercentage: 1, categoryPercentage: 1, borderWidth: 0 }] },
      options: {
        ...baseOpts, layout: { padding: { top: pad, bottom: pad }, autoPadding: false },
        scales: {
          x: { display: false },
          y: { min, max, position: "right", grid: noGrid, border: { display: false }, afterFit: (s: any) => { s.width = 30; },
            afterBuildTicks: (s: any) => { s.ticks = ticks.map((value) => ({ value })); },
            ticks: { autoSkip: false, padding: 3, color: "#333", font: { size: fs }, callback: (v: number) => `${v}` } },
        },
      },
    },
  });
}
function hbar(x0: number, x1: number, y0: number, bh: number, stops: string[], ticks: number[], fs = 2.6) {
  const pad = 5;
  specs.push({
    left: x0 - pad, top: y0, width: x1 - x0 + 2 * pad, height: bh + 6,
    config: {
      type: "bar",
      data: { labels: ["scale"], datasets: [{ data: [[ticks[0], ticks[ticks.length - 1]]], backgroundColor: gradient(stops, false), barPercentage: 1, categoryPercentage: 1, borderWidth: 0 }] },
      options: {
        ...baseOpts, indexAxis: "y", layout: { padding: { left: pad, right: pad }, autoPadding: false },
        scales: {
          y: { display: false },
          x: { min: ticks[0], max: ticks[ticks.length - 1], grid: noGrid, border: { display: false }, afterFit: (s: any) => { s.height = 6; },
            afterBuildTicks: (s: any) => { s.ticks = ticks.map((value) => ({ value })); },
            ticks: { padding: 1, maxRotation: 0, autoSkip: false, color: "#333", font: { size: fs }, callback: (v: number) => (ticks[ticks.length - 1] <= 1 ? (+v).toFixed(2) : `${v}`) } },
        },
      },
    },
  });
}
function sizeKey(x0: number, x1: number, y0: number, maxR: number) {
  specs.push({
    left: x0, top: y0, width: x1 - x0, height: 10,
    config: {
      type: "line",
      data: { labels: keyFractions.map(String), datasets: [{ data: keyFractions.map(() => 1), showLine: false, pointRadius: keyFractions.map((p) => Math.sqrt(p / 100) * maxR), pointBackgroundColor: "#555", pointBorderWidth: 0 }] },
      options: {
        ...baseOpts, layout: { padding: 0, autoPadding: false },
        scales: {
          y: { display: false, min: 0, max: 2 },
          x: { offset: true, grid: noGrid, border: { display: false }, afterFit: (s: any) => { s.height = 4; }, ticks: { padding: 0, maxRotation: 0, autoSkip: false, color: "#333", font: { size: 2.4 } } },
        },
      },
    },
  });
}
function boxplot() {
  const bar = (data: any[], color: string, thickness: number, border = 0, bc = "#777") => ({ data, backgroundColor: color, borderColor: bc, borderWidth: border, barThickness: thickness, grouped: false, borderSkipped: false });
  const pts = (data: number[], color: string) => ({ type: "line", showLine: false, clip: false, data, pointRadius: 1.2, pointHoverRadius: 0, pointBackgroundColor: color, pointBorderWidth: 0, order: -2 });
  const lows = stageCats.map((_, i) => Math.min(propE70[i], propE775[i], propE80[i]));
  const highs = stageCats.map((_, i) => Math.max(propE70[i], propE775[i], propE80[i]));
  specs.push({
    left: 540, top: 150, width: 141, height: 115,
    config: {
      type: "bar",
      data: {
        labels: stageCats,
        datasets: [
          pts(propE70, "#f06060"), pts(propE775, "#50d040"), pts(propE80, "#5090f0"),
          { type: "line", showLine: false, data: propE775, pointStyle: "line", pointRadius: 2.8, pointHoverRadius: 0, pointBorderColor: "#222", pointBorderWidth: .8, order: -1 },
          { ...bar(stageCats.map((_, i) => [boxQ1[i], boxQ3[i]]), "#ffffff", 5.5, .8, "#777"), order: 1 },
          { ...bar(stageCats.map((_, i) => [lows[i], highs[i]]), "#666", .8), order: 2 },
        ],
      },
      options: {
        ...baseOpts, layout: { padding: { top: 3, right: 3 }, autoPadding: false },
        scales: {
          x: { grid: noGrid, border: { display: false }, afterFit: (s: any) => { s.height = 62; },
            ticks: { autoSkip: false, minRotation: 90, maxRotation: 90, padding: 3, color: "#333", font: { size: 3.6 } } },
          y: { min: -.05, max: 8.2, grid: noGrid, border: { color: "#888", width: .6 }, afterFit: (s: any) => { s.width = 11; },
            afterBuildTicks: (s: any) => { s.ticks = [0, 2, 4, 6, 8].map((value) => ({ value })); },
            title: { display: true, text: "Proportion (%)", font: { size: 3.8, weight: "bold" }, padding: 0, color: "#222" },
            ticks: { padding: 1, color: "#333", font: { size: 3.4 } } },
        },
      },
    },
  });
}

/* panel a */
umap([7.3, 5, 144.7, 140], [22, 455, 15, 435], [...cells85.map((c) => ({ color: c[1], pts: c[2] })), white(holes85, .5)], [frame("#777", 1.5)]);
/* panel b */
umap([551, 4, 131, 124], [17.4, 466.8, 11, 436], [...g85(() => TEAL), { color: SALMON, pts: e775Specks }, white(holes85, .4)], [frame("#888", 1)]);
/* panel c */
umap([8, 151, 177, 172], [24, 555, 3, 520], [...cells95.map((c) => ({ color: c[1], pts: c[2] })), white(holes95, .5)], [frame("#444", 1.3), clusterLabels(labels95)]);
/* panel d */
umap([416, 145, 109, 107], [18.6, 558.5, -4.8, 524.9], [...g95(() => TEAL), white(holes95, .6), { color: SALMON, pts: embryo1Specks }], [frame("#777", 1)]);
/* panel i */
boxplot();
/* heat maps */
heat(9, 356, 247, 309, 15, 100, columnsE, genesE, heatERows, baseE, readColsE, 4);
heat(291, 263, 158, 417, 13, 90, columnsF, genesF, heatFRows, baseF, baseF.length, 3.5);
/* panel j */
scalar85([461, 288, 537, 360], umi85);
scalar85([578, 292, 659, 365], gene85);
scalar85([461, 374, 537, 443], mito85);
{ const f = fit([576, 376, 650, 445], EXT85); umap(f.box, f.range, [...g85(() => STEEL), white(holes85, .4)]); }
vbar(542, 284, 364, 3, 1500, 37900, [10000, 20000, 30000]);
vbar(664, 287, 369, 3, 90, 7545, [2000, 4000, 6000]);
vbar(541, 370, 447, 3, 0, 13.5, [0, 2, 4, 6, 8, 10, 12]);
/* panel k */
scalar95([463, 473, 537, 540], umi95);
scalar95([587, 472, 653, 532], gene95);
scalar95([467, 555, 546, 628], mito95);
{ const f = fit([575, 555, 657, 632], EXT95); umap(f.box, f.range, [...g95(() => STEEL), white(holes95, .5)]); }
vbar(541, 469, 543, 3, 2200, 28170, [5000, 10000, 15000, 20000, 25000]);
vbar(657, 468, 536, 3, 667, 6333, [1000, 2000, 3000, 4000, 5000, 6000]);
vbar(551, 550, 630, 3, 0, 20.8, [0, 5, 10, 15, 20]);
/* panel l */
{ const f = fit([464, 648, 545, 722], EXT85); umap(f.box, f.range, [...g85((i) => PHASE[phase85[i]]), { color: PHASE[2], pts: e775Specks }, white(holes85, .4)]); }
{ const f = fit([580, 648, 650, 735], EXT95); umap(f.box, f.range, [...g95((i) => PHASE[phase95[i]]), { color: PHASE[0], pts: embryo1Specks }, white(holes95, .5)]); }
/* panels g, h */
dotplot(9, 766, 244, 51, 30, 24, genesG, meanG, fracG, 6.6, 3.6);
dotplot(291, 771, 163, 40, 24, 26, genesH, meanH, fracH, 6, 3.2);
/* colour and size keys */
hbar(227, 259, 748, 4, viridis, [0, .25, .5, .75, 1]);
hbar(430, 452, 759, 6, ["#440154", "#3b528b", "#21918c", "#5ec962", "#fde725"], [0, .25, .5, .75, 1], 2.2);
hbar(253, 268, 834, 4, coolStops, [0, 10], 2.2);
hbar(458, 477, 825, 4, coolStops, [0, 10], 2.2);
sizeKey(252, 270, 821, 2.2);
sizeKey(457, 478, 815, 2.2);

/* ---------- text ---------- */
const panelLetters: [string, number, number][] = [["a", 3, 3], ["b", 547, 5], ["c", 3, 157], ["d", 411, 146], ["e", 5, 348], ["f", 285, 350], ["g", 11, 758], ["h", 287, 765], ["i", 539, 150], ["j", 468, 283], ["k", 473, 455], ["l", 467, 634]];
const titles: [string, number, number, number][] = [["UMI count", 498, 285, 5], ["Gene count", 619, 286, 5], ["Mitochondrial count (%)", 501, 369, 5], ["Doublet detection", 615, 371, 5], ["UMI count", 501, 468, 5], ["Gene count", 610, 466, 5], ["Mitochondrial count (%)", 507, 550, 5.4], ["Doublet detection", 629, 549, 5.4], ["Cell cycle", 495, 641, 5], ["Cell cycle", 610, 641, 5], ["mean expression", 243, 745, 3.2], ["mean expression", 441, 757, 2.6], ["frac. of cells (%)", 261, 819, 2.6], ["frac. of cells (%)", 467, 814, 2.6], ["Mean expression", 261, 832, 2.6], ["Mean expression", 467, 823.5, 2.6], ["Embryo", 663, 142, 4.8]];
const dotLegends: [string, string, number, number, number, number][] = [
  ["False", STEEL, 656, 407, 4.6, 1.3], ["True", "#f08a30", 656, 413, 4.6, 1.3],
  ["False", STEEL, 666, 590, 4.6, 1.3], ["True", "#f08a30", 666, 597, 4.6, 1.3],
  ["G1", STEEL, 546, 676, 3, 1], ["G2M", "#f08a30", 546, 681, 3, 1], ["S", "#3d9a3d", 546, 686, 3, 1],
  ["G1", STEEL, 651, 677, 4, 1.2], ["G2M", "#f08a30", 651, 684, 4, 1.2], ["S", "#3d9a3d", 651, 692, 4, 1.2],
  ["E7.0", "#f06060", 653, 149, 4.6, 1.2], ["E7.75", "#50d040", 653, 157, 4.6, 1.2], ["E8.0", "#5090f0", 653, 167, 4.6, 1.2],
  ["Embryo 1", "#f47070", 494, 152, 5.4, 2.4], ["Embryo 2", TEAL, 494, 162, 5.4, 2.4],
  ["E7.75", "#f47070", 559, 12, 6.6, 3.3], ["E8.5", TEAL, 559, 26, 6.6, 3.3],
];

const abs = (left: number, top: number, extra: any = {}): any => ({ position: "absolute", left, top, lineHeight: 1, whiteSpace: "nowrap", ...extra });

function Legend({ items, dotX, textX, y0, dy, size, num, numX }: any) {
  return items.map(([t, c]: string[], i: number) => {
    const y = y0 + i * dy;
    return (
      <React.Fragment key={t + i}>
        {num != null && (
          <span style={abs(numX - 2.6, y - 2.6, { width: 4.2, height: 4.2, border: ".6px solid #444", borderRadius: "50%", fontSize: 2.8, textAlign: "center", lineHeight: "4.2px", color: "#333" })}>{num + i}</span>
        )}
        <span style={abs(dotX - 1.6, y - 1.6, { width: 3.2, height: 3.2, borderRadius: "50%", background: c })} />
        <span style={abs(textX, y - size / 2, { fontSize: size, color: "#444" })}>{t}</span>
      </React.Fragment>
    );
  });
}

export default function App() {
  const refs = useRef<(HTMLCanvasElement | null)[]>([]);
  useEffect(() => {
    const charts = specs.map((s, i) => new Chart(refs.current[i] as HTMLCanvasElement, s.config));
    return () => charts.forEach((c) => c.destroy());
  }, []);
  return (
    <div style={{ position: "absolute", left: 0, top: 0, width: 684, height: 840, overflow: "hidden", background: "#fff", fontFamily: "'DejaVu Sans', sans-serif" }}>
      {specs.map((s, i) => (
        <canvas key={i} ref={(el) => { refs.current[i] = el; }} width={s.width} height={s.height} style={{ position: "absolute", left: s.left, top: s.top, width: s.width, height: s.height }} />
      ))}
      <div style={{ position: "absolute", left: 0, top: 0, width: 684, height: 840, willChange: "transform", pointerEvents: "none" }}>
        <Legend items={legendA1} dotX={156} textX={161} y0={9} dy={10.4} size={6.3} />
        <Legend items={legendA2} dotX={299} textX={305} y0={9.5} dy={10.4} size={6.3} />
        <Legend items={legendA3} dotX={431} textX={436} y0={10} dy={10.4} size={6.3} />
        <Legend items={legendC1} dotX={203} textX={206} y0={156} dy={7.73} size={4.7} num={1} numX={195} />
        <Legend items={legendC2} dotX={313} textX={317} y0={155} dy={7.5} size={4.7} num={23} numX={305} />
        <span style={abs(147.7, 9.5, { transform: "translate(-100%,-50%)", fontSize: 7.6, color: "#222" })}>E7.75&amp;E8.5</span>
        <span style={abs(149, 140, { transform: "translate(-100%,-50%)", fontSize: 6.3, color: "#222" })}>n = 10204</span>
        <span style={abs(182, 158, { transform: "translate(-100%,-50%)", fontSize: 10, color: "#222" })}>E9.5</span>
        <span style={abs(182, 318, { transform: "translate(-100%,-50%)", fontSize: 6.5, color: "#222" })}>n = 17337</span>
        {panelLetters.map(([t, x, y]) => (
          <span key={t} style={abs(x, y, { transform: "translate(-50%,-50%)", fontFamily: "'Liberation Sans', sans-serif", fontWeight: 700, fontSize: 9, color: "#000" })}>{t}</span>
        ))}
        {titles.map(([t, x, y, s], i) => (
          <span key={i} style={abs(x, y, { transform: "translate(-50%,-50%)", fontSize: s, color: "#222" })}>{t}</span>
        ))}
        {dotLegends.map(([t, c, x, y, s, r], i) => (
          <React.Fragment key={i}>
            <span style={abs(x - r, y - r, { width: 2 * r, height: 2 * r, borderRadius: "50%", background: c })} />
            <span style={abs(x + r + 1.5, y - s / 2, { fontSize: s, color: "#333" })}>{t}</span>
          </React.Fragment>
        ))}
        <span style={abs(649, 154, { width: 25, height: 8, border: ".7px dashed #555", borderRadius: 3 })} />
      </div>
    </div>
  );
}
